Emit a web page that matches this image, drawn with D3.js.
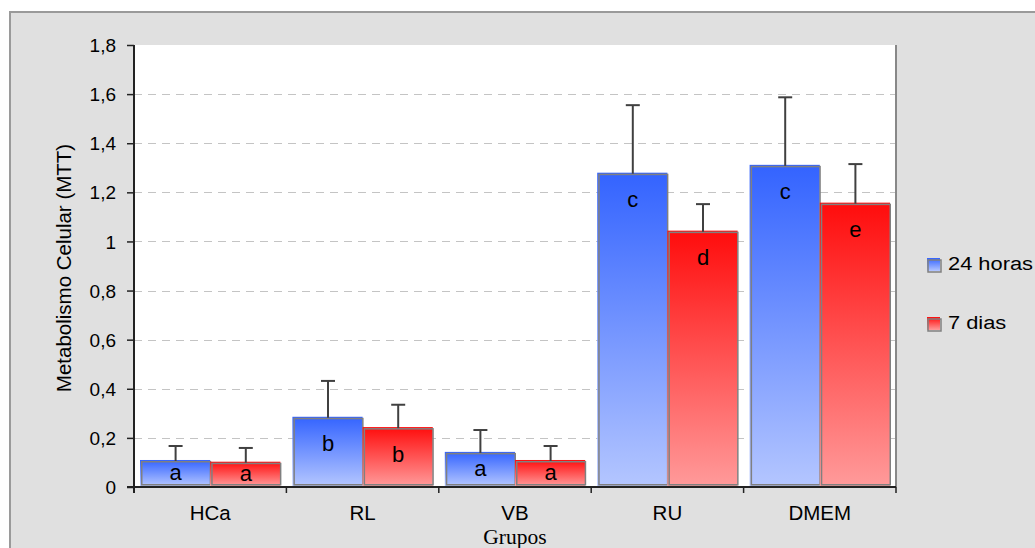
<!DOCTYPE html>
<html><head><meta charset="utf-8">
<script src="https://cdn.jsdelivr.net/npm/d3@7"></script>
<style>body{margin:0;background:#fff}svg{display:block}</style>
</head><body>
<svg id="c" width="1035" height="548"></svg>
<script>
const categories = ["HCa","RL","VB","RU","DMEM"];
const seriesNames = ["24 horas","7 dias"];
const means24h = [0.11,0.286,0.143,1.28,1.312];
const means7d = [0.103,0.244,0.11,1.044,1.158];
const errTop24h = [0.167,0.432,0.232,1.555,1.587];
const errTop7d = [0.159,0.335,0.167,1.152,1.315];
const letters24h = ["a","b","a","c","c"];
const letters7d = ["a","b","a","d","e"];
const yTicks = [0,0.2,0.4,0.6,0.8,1,1.2,1.4,1.6,1.8];

const svg = d3.select("#c");
const font = "'Liberation Sans', Arial, sans-serif";
const L=134, R=896, T=45, B=487;

// frame
svg.append("rect").attr("x",10).attr("y",12).attr("width",1040).attr("height",545)
  .attr("fill","#e0e0e0").attr("stroke","#9a9a9a").attr("stroke-width",2);
svg.append("rect").attr("x",L).attr("y",T).attr("width",R-L).attr("height",B-T).attr("fill","#fff");

const defs = svg.append("defs");
function grad(id, c1, c2){
  const g = defs.append("linearGradient").attr("id",id).attr("x1",0).attr("y1",0).attr("x2",0).attr("y2",1);
  g.append("stop").attr("offset","0%").attr("stop-color",c1);
  g.append("stop").attr("offset","100%").attr("stop-color",c2);
}
grad("gb","#3363ff","#b4c6ff");
grad("gr","#ff0c0c","#ff9a9a");
const fills = ["url(#gb)","url(#gr)"];

const x0 = d3.scaleBand().domain(categories).range([L,R]).paddingInner(0).paddingOuter(0);
const x1 = d3.scaleBand().domain(seriesNames).range([6, x0.bandwidth()-6]);
const y = d3.scaleLinear().domain([0,1.8]).range([B,T]);

// grid
svg.append("g").selectAll("line").data(yTicks.filter(t=>t>0 && t<1.8)).join("line")
  .attr("x1",L).attr("x2",R).attr("y1",d=>Math.round(y(d))+0.5).attr("y2",d=>Math.round(y(d))+0.5)
  .attr("stroke","#c4c4c4").attr("stroke-width",1).attr("stroke-dasharray","8,6");

// right border
svg.append("line").attr("x1",R).attr("x2",R).attr("y1",T).attr("y2",B).attr("stroke","#888").attr("stroke-width",2);

const data = [];
categories.forEach((c,i)=>{
  data.push({c, s:seriesNames[0], v:means24h[i], e:errTop24h[i], l:letters24h[i], k:0});
  data.push({c, s:seriesNames[1], v:means7d[i], e:errTop7d[i], l:letters7d[i], k:1});
});

const bars = svg.append("g");
data.forEach(d=>{
  const bx = x0(d.c)+x1(d.s), bw = x1.bandwidth(), top = y(d.v), h = B-1-top;
  bars.append("rect").attr("x",bx).attr("y",top).attr("width",bw).attr("height",h).attr("fill",fills[d.k]);
  bars.append("rect").attr("x",bx+1.75).attr("y",top+1.75).attr("width",bw-1.5).attr("height",h-3)
    .attr("fill","none").attr("stroke","#808080").attr("stroke-width",1.5);
  const cx = bx+bw/2+0.5;
  bars.append("line").attr("x1",cx).attr("x2",cx).attr("y1",top+1).attr("y2",y(d.e)).attr("stroke","#404040").attr("stroke-width",2);
  bars.append("line").attr("x1",cx-7).attr("x2",cx+7).attr("y1",y(d.e)).attr("y2",y(d.e)).attr("stroke","#404040").attr("stroke-width",2);
  const ly = Math.min(top+28,(top+B)/2);
  bars.append("text").attr("x",cx).attr("y",ly).attr("dy","0.3em").attr("text-anchor","middle")
    .attr("font-family",font).attr("font-size",22).attr("fill","#000").text(d.l);
});

// y axis
const ya = svg.append("g").attr("transform",`translate(${L},0)`)
  .call(d3.axisLeft(y).tickValues(yTicks).tickSize(7).tickFormat(d=>d3.format("")(d).replace(".",",")));
ya.select(".domain").attr("stroke","#222").attr("stroke-width",2).attr("d",`M0,${T}V${B+6}`);
ya.selectAll(".tick line").attr("stroke","#222").attr("stroke-width",1.5);
ya.selectAll(".tick text").attr("font-family",font).attr("font-size",19).attr("fill","#000").attr("x",-18).attr("dy","0.35em");

// x axis
const xa = svg.append("g").attr("transform",`translate(0,${B})`);
xa.append("line").attr("x1",L-7).attr("x2",R).attr("y1",0).attr("y2",0).attr("stroke","#222").attr("stroke-width",2);
const bounds = categories.map(c=>x0(c)).concat([R]);
xa.selectAll(".bt").data(bounds).join("line").attr("x1",d=>d).attr("x2",d=>d).attr("y1",0).attr("y2",6)
  .attr("stroke","#222").attr("stroke-width",1.5);
xa.selectAll(".lab").data(categories).join("text").attr("x",d=>x0(d)+x0.bandwidth()/2).attr("y",32.5)
  .attr("text-anchor","middle").attr("font-family",font).attr("font-size",20.5).attr("fill","#000").text(d=>d);

// titles
svg.append("text").attr("transform","translate(71,268) rotate(-90)").attr("text-anchor","middle")
  .attr("font-family",font).attr("font-size",20.5).attr("fill","#000").text("Metabolismo Celular (MTT)");
svg.append("text").attr("x",515).attr("y",543.5).attr("text-anchor","middle")
  .attr("font-family","'Liberation Serif','Times New Roman',serif").attr("font-size",21.5).attr("fill","#000").text("Grupos");

// legend
const lg = svg.append("g");
seriesNames.forEach((s,i)=>{
  const ly = 258 + i*59;
  lg.append("rect").attr("x",927).attr("y",ly).attr("width",13).attr("height",13).attr("fill",fills[i]);
  lg.append("rect").attr("x",928).attr("y",ly+2).attr("width",13).attr("height",12).attr("fill","none").attr("stroke","#808080").attr("stroke-width",1.5);
  lg.append("text").attr("transform",`translate(948,${ly+12}) scale(1.15,1)`).attr("font-family",font).attr("font-size",19).attr("fill","#000").text(s);
});
</script>
</body></html>
